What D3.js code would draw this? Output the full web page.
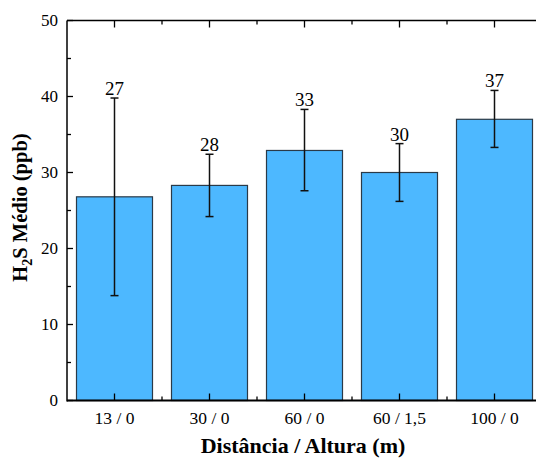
<!DOCTYPE html>
<html>
<head>
<meta charset="utf-8">
<script src="https://cdn.jsdelivr.net/npm/d3@7"></script>
<style>
  html, body { margin: 0; padding: 0; background: #fff; }
  svg { display: block; }
</style>
</head>
<body>
<script>
// Mean H2S per sampling point (distance / height), with standard deviation
const categories = ["13 / 0", "30 / 0", "60 / 0", "60 / 1,5", "100 / 0"];
const means      = [26.8, 28.3, 32.9, 30.0, 37.0];
const errUpper   = [39.8, 32.4, 38.3, 33.8, 40.8];
const errLower   = [13.8, 24.2, 27.6, 26.2, 33.3];
const valueLabels = ["27", "28", "33", "30", "37"];
const yTicks      = [0, 10, 20, 30, 40, 50];
const yMinorTicks = [5, 15, 25, 35, 45];

const W = 536, H = 459;
const margin = { left: 67, top: 20.5, right: -6, bottom: 58.5 };
const plotW = W - margin.left - margin.right;
const plotH = H - margin.top - margin.bottom;
const serif = "'Liberation Serif'";

const svg = d3.select("body").append("svg")
  .attr("width", W).attr("height", H);

const g = svg.append("g").attr("transform", `translate(${margin.left},${margin.top})`);

const x = d3.scaleBand().domain(categories).range([0, plotW]).paddingInner(0.2).paddingOuter(0.1);
const y = d3.scaleLinear().domain([0, 50]).range([plotH, 0]);
const step = x.step();
const cx = c => x(c) + x.bandwidth() / 2;

// bars
g.selectAll("rect.bar").data(categories).join("rect")
  .attr("class", "bar")
  .attr("x", c => x(c))
  .attr("width", x.bandwidth())
  .attr("y", (c, i) => y(means[i]))
  .attr("height", (c, i) => y(0) - y(means[i]))
  .attr("fill", "#4DB8FF")
  .attr("stroke", "#2a3a48")
  .attr("stroke-width", 1.2);

// error bars
const eb = g.selectAll("g.err").data(categories).join("g").attr("class", "err");
eb.append("line")
  .attr("x1", cx).attr("x2", cx)
  .attr("y1", (c, i) => y(errLower[i])).attr("y2", (c, i) => y(errUpper[i]))
  .attr("stroke", "#111").attr("stroke-width", 1.5);
[errUpper, errLower].forEach(arr => {
  eb.append("line")
    .attr("x1", c => cx(c) - 4).attr("x2", c => cx(c) + 4)
    .attr("y1", (c, i) => y(arr[i])).attr("y2", (c, i) => y(arr[i]))
    .attr("stroke", "#111").attr("stroke-width", 1.5);
});

// value labels above error bars
g.selectAll("text.val").data(categories).join("text")
  .attr("class", "val")
  .attr("font-family", serif)
  .attr("x", cx)
  .attr("y", (c, i) => y(errUpper[i]) - 3)
  .attr("text-anchor", "middle")
  .attr("font-size", 19)
  .text((c, i) => valueLabels[i]);

// frame
const frame = g.append("g").attr("stroke", "#000").attr("fill", "none");
frame.append("line").attr("x1", 0).attr("x2", plotW).attr("y1", plotH).attr("y2", plotH).attr("stroke-width", 2);
frame.append("line").attr("x1", 0).attr("x2", 0).attr("y1", 0).attr("y2", plotH + 1).attr("stroke-width", 1.5);
frame.append("line").attr("x1", 0).attr("x2", plotW).attr("y1", 0).attr("y2", 0).attr("stroke-width", 1.5);
frame.append("line").attr("x1", plotW).attr("x2", plotW).attr("y1", 0).attr("y2", plotH).attr("stroke-width", 1.5);

// inward ticks on all four sides
const tickG = g.append("g").attr("stroke", "#000").attr("stroke-width", 1.3);
const minorX = categories.slice(1).map(c => x(c) - (step - x.bandwidth()) / 2);
categories.forEach(c => {
  tickG.append("line").attr("x1", cx(c)).attr("x2", cx(c)).attr("y1", plotH).attr("y2", plotH - 7);
  tickG.append("line").attr("x1", cx(c)).attr("x2", cx(c)).attr("y1", 0).attr("y2", 7);
});
minorX.forEach(v => {
  tickG.append("line").attr("x1", v).attr("x2", v).attr("y1", plotH).attr("y2", plotH - 4);
  tickG.append("line").attr("x1", v).attr("x2", v).attr("y1", 0).attr("y2", 4);
});
yTicks.forEach(t => {
  tickG.append("line").attr("x1", 0).attr("x2", 6).attr("y1", y(t)).attr("y2", y(t));
  tickG.append("line").attr("x1", plotW).attr("x2", plotW - 6).attr("y1", y(t)).attr("y2", y(t));
});
yMinorTicks.forEach(t => {
  tickG.append("line").attr("x1", 0).attr("x2", 4).attr("y1", y(t)).attr("y2", y(t));
  tickG.append("line").attr("x1", plotW).attr("x2", plotW - 4).attr("y1", y(t)).attr("y2", y(t));
});

// y tick labels
g.selectAll("text.yt").data(yTicks).join("text")
  .attr("class", "yt")
  .attr("font-family", serif)
  .attr("x", -9).attr("y", t => y(t))
  .attr("dy", "0.35em")
  .attr("text-anchor", "end")
  .attr("font-size", 17)
  .text(t => t);

// x tick labels
g.selectAll("text.xt").data(categories).join("text")
  .attr("class", "xt")
  .attr("font-family", serif)
  .attr("x", cx).attr("y", plotH + 23)
  .attr("text-anchor", "middle")
  .attr("font-size", 17.5)
  .text(c => c);

// axis titles
svg.append("text")
  .attr("font-family", serif)
  .attr("x", 303)
  .attr("y", 453)
  .attr("text-anchor", "middle")
  .attr("font-size", 22)
  .attr("font-weight", "bold")
  .text("Distância / Altura (m)");

const yt = svg.append("text")
  .attr("font-family", serif)
  .attr("transform", `translate(27,${margin.top + 187}) rotate(-90)`)
  .attr("text-anchor", "middle")
  .attr("font-size", 20.5)
  .attr("font-weight", "bold");
yt.append("tspan").text("H");
yt.append("tspan").attr("font-size", 14).attr("dy", 5).text("2");
yt.append("tspan").attr("dy", -5).text("S Médio (ppb)");
</script>
</body>
</html>
